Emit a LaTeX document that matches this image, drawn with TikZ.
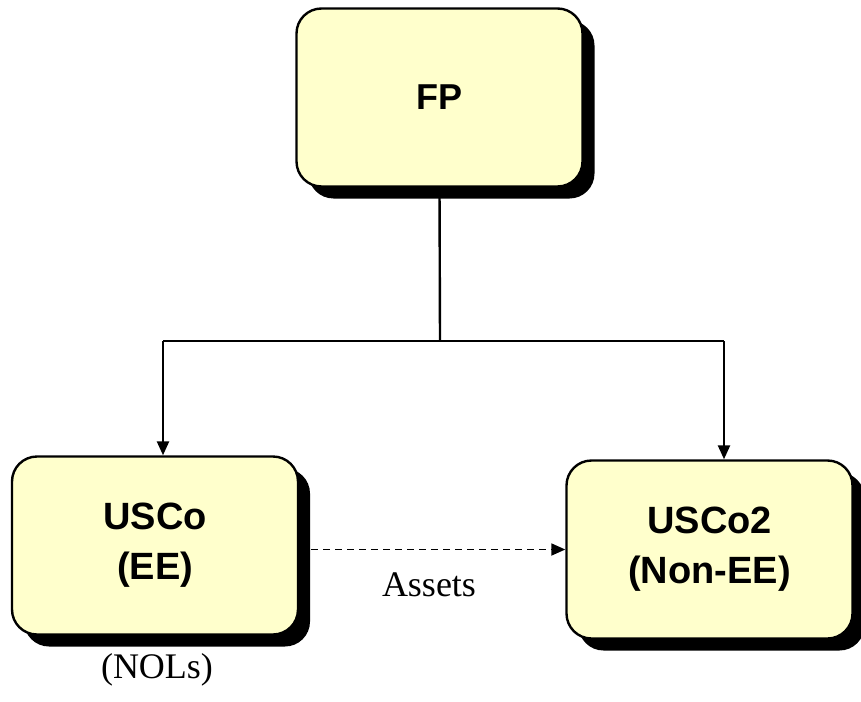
\documentclass[tikz,border=0pt]{standalone}
\usepackage{fontspec}
\setmainfont{Liberation Serif}
\newfontfamily\boxfont{Liberation Sans}
\usetikzlibrary{arrows.meta,shadows}
\definecolor{boxfill}{RGB}{255,255,204}
\tikzset{
  entity/.style={draw=black, line width=2.4pt, fill=boxfill, rounded corners=25pt,
    minimum width=286pt, minimum height=178pt, align=center, inner sep=0pt,
    font=\boxfont\bfseries\fontsize{38}{50}\selectfont,
    drop shadow={shadow xshift=12pt, shadow yshift=-12pt, fill=black, opacity=1}},
  link/.style={line width=2.4pt},
  tip/.style={-{Triangle[length=14pt,width=12pt]}},
  note/.style={font=\fontsize{36}{40}\selectfont, inner sep=0pt}
}
\begin{document}
\begin{tikzpicture}[x=1pt,y=-1pt]
  \useasboundingbox (0,0) rectangle (861,701);

  % entities
  \node[entity, font=\boxfont\bfseries\fontsize{36}{48}\selectfont] (fp) at (439.5,97.5) {FP};
  \node[entity] (usco) at (155,545.5) {USCo\\(EE)};
  \node[entity] (usco2) at (709.5,549.5) {USCo2\\(Non-EE)};

  % ownership tree
  \coordinate (hub) at (440,341);
  \coordinate (left) at (163,341);
  \coordinate (right) at (724,341);
  \draw[link] (fp.south) -- (hub);
  \draw[link] (left) -- (right);
  \draw[link, tip] (left) -- (left |- usco.north);
  \draw[link, tip] (right) -- (right |- usco2.north);

  % asset transfer
  \draw[line width=1.8pt, dash pattern=on 7pt off 5pt, tip]
    ([xshift=12pt]usco.east |- usco2.west) -- (usco2.west);

  % labels
  \node[note] (assets) at (429,585) {Assets};
  \node[note] (nols) at (157,670) {(NOLs)};
\end{tikzpicture}
\end{document}
